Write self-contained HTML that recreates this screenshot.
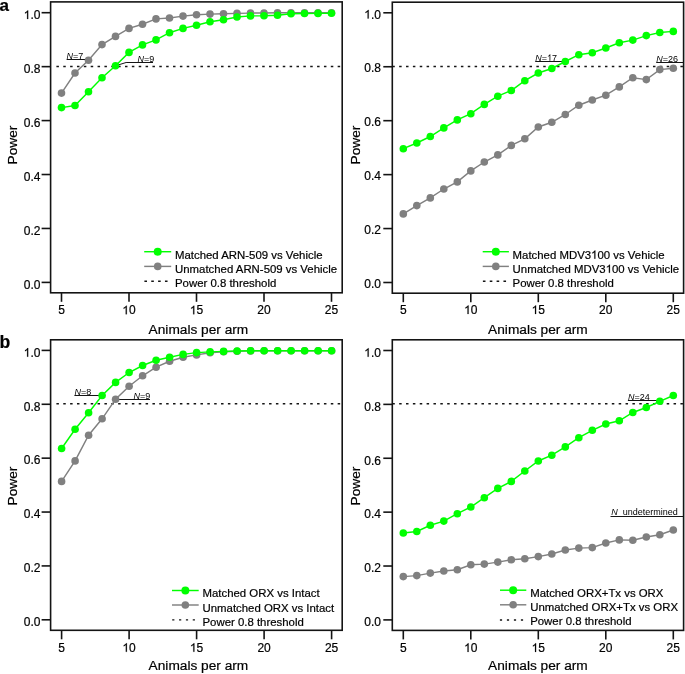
<!DOCTYPE html>
<html><head><meta charset="utf-8"><style>
html,body{margin:0;padding:0;background:#fff;}
svg{display:block;will-change:transform;}
text{font-family:"Liberation Sans",sans-serif;fill:#000;stroke:#000;stroke-width:0.2px;}
.h{fill:none;stroke:none;}
.ann{stroke:none;}
</style></head><body>
<svg width="685" height="674" viewBox="0 0 685 674">
<rect width="685" height="674" fill="#fff"/>
<rect x="50.6" y="1.9" width="291.6" height="290.9" fill="none" stroke="#141414" stroke-width="1.6"/>
<line x1="41.6" y1="282.4" x2="50.6" y2="282.4" stroke="#141414" stroke-width="1.6"/>
<text x="40.4" y="288.7" font-size="12" text-anchor="end">0.0</text>
<line x1="41.6" y1="228.46" x2="50.6" y2="228.46" stroke="#141414" stroke-width="1.6"/>
<text x="40.4" y="234.76" font-size="12" text-anchor="end">0.2</text>
<line x1="41.6" y1="174.52" x2="50.6" y2="174.52" stroke="#141414" stroke-width="1.6"/>
<text x="40.4" y="180.82" font-size="12" text-anchor="end">0.4</text>
<line x1="41.6" y1="120.58" x2="50.6" y2="120.58" stroke="#141414" stroke-width="1.6"/>
<text x="40.4" y="126.88" font-size="12" text-anchor="end">0.6</text>
<line x1="41.6" y1="66.64" x2="50.6" y2="66.64" stroke="#141414" stroke-width="1.6"/>
<text x="40.4" y="72.94" font-size="12" text-anchor="end">0.8</text>
<line x1="41.6" y1="12.7" x2="50.6" y2="12.7" stroke="#141414" stroke-width="1.6"/>
<text x="40.4" y="19" font-size="12" text-anchor="end"><tspan class="h">1</tspan>.0</text>
<line x1="61.5" y1="292.8" x2="61.5" y2="301.8" stroke="#141414" stroke-width="1.6"/>
<text x="61.5" y="314.3" font-size="12" text-anchor="middle">5</text>
<line x1="129" y1="292.8" x2="129" y2="301.8" stroke="#141414" stroke-width="1.6"/>
<text x="129" y="314.3" font-size="12" text-anchor="middle"><tspan class="h">1</tspan>0</text>
<line x1="196.5" y1="292.8" x2="196.5" y2="301.8" stroke="#141414" stroke-width="1.6"/>
<text x="196.5" y="314.3" font-size="12" text-anchor="middle"><tspan class="h">1</tspan>5</text>
<line x1="264" y1="292.8" x2="264" y2="301.8" stroke="#141414" stroke-width="1.6"/>
<text x="264" y="314.3" font-size="12" text-anchor="middle">20</text>
<line x1="331.5" y1="292.8" x2="331.5" y2="301.8" stroke="#141414" stroke-width="1.6"/>
<text x="331.5" y="314.3" font-size="12" text-anchor="middle">25</text>
<line x1="56.4" y1="66.5" x2="342.2" y2="66.5" stroke="#141414" stroke-width="1.4" stroke-dasharray="2.5 4.36"/>
<rect x="392.3" y="2.2" width="291.3" height="291" fill="none" stroke="#141414" stroke-width="1.6"/>
<line x1="383.3" y1="282.5" x2="392.3" y2="282.5" stroke="#141414" stroke-width="1.6"/>
<text x="380.9" y="288.2" font-size="12" text-anchor="end">0.0</text>
<line x1="383.3" y1="228.56" x2="392.3" y2="228.56" stroke="#141414" stroke-width="1.6"/>
<text x="380.9" y="234.26" font-size="12" text-anchor="end">0.2</text>
<line x1="383.3" y1="174.62" x2="392.3" y2="174.62" stroke="#141414" stroke-width="1.6"/>
<text x="380.9" y="180.32" font-size="12" text-anchor="end">0.4</text>
<line x1="383.3" y1="120.68" x2="392.3" y2="120.68" stroke="#141414" stroke-width="1.6"/>
<text x="380.9" y="126.38" font-size="12" text-anchor="end">0.6</text>
<line x1="383.3" y1="66.74" x2="392.3" y2="66.74" stroke="#141414" stroke-width="1.6"/>
<text x="380.9" y="72.44" font-size="12" text-anchor="end">0.8</text>
<line x1="383.3" y1="12.8" x2="392.3" y2="12.8" stroke="#141414" stroke-width="1.6"/>
<text x="380.9" y="18.5" font-size="12" text-anchor="end"><tspan class="h">1</tspan>.0</text>
<line x1="403.3" y1="293.2" x2="403.3" y2="302.2" stroke="#141414" stroke-width="1.6"/>
<text x="403.3" y="314" font-size="12" text-anchor="middle">5</text>
<line x1="470.8" y1="293.2" x2="470.8" y2="302.2" stroke="#141414" stroke-width="1.6"/>
<text x="470.8" y="314" font-size="12" text-anchor="middle"><tspan class="h">1</tspan>0</text>
<line x1="538.3" y1="293.2" x2="538.3" y2="302.2" stroke="#141414" stroke-width="1.6"/>
<text x="538.3" y="314" font-size="12" text-anchor="middle"><tspan class="h">1</tspan>5</text>
<line x1="605.8" y1="293.2" x2="605.8" y2="302.2" stroke="#141414" stroke-width="1.6"/>
<text x="605.8" y="314" font-size="12" text-anchor="middle">20</text>
<line x1="673.3" y1="293.2" x2="673.3" y2="302.2" stroke="#141414" stroke-width="1.6"/>
<text x="673.3" y="314" font-size="12" text-anchor="middle">25</text>
<line x1="392.3" y1="66.5" x2="683.6" y2="66.5" stroke="#141414" stroke-width="1.4" stroke-dasharray="2.5 4.36"/>
<rect x="50.6" y="339.8" width="291.6" height="290.5" fill="none" stroke="#141414" stroke-width="1.6"/>
<line x1="41.6" y1="619.8" x2="50.6" y2="619.8" stroke="#141414" stroke-width="1.6"/>
<text x="40.4" y="626.1" font-size="12" text-anchor="end">0.0</text>
<line x1="41.6" y1="565.92" x2="50.6" y2="565.92" stroke="#141414" stroke-width="1.6"/>
<text x="40.4" y="572.22" font-size="12" text-anchor="end">0.2</text>
<line x1="41.6" y1="512.04" x2="50.6" y2="512.04" stroke="#141414" stroke-width="1.6"/>
<text x="40.4" y="518.34" font-size="12" text-anchor="end">0.4</text>
<line x1="41.6" y1="458.16" x2="50.6" y2="458.16" stroke="#141414" stroke-width="1.6"/>
<text x="40.4" y="464.46" font-size="12" text-anchor="end">0.6</text>
<line x1="41.6" y1="404.28" x2="50.6" y2="404.28" stroke="#141414" stroke-width="1.6"/>
<text x="40.4" y="410.58" font-size="12" text-anchor="end">0.8</text>
<line x1="41.6" y1="350.4" x2="50.6" y2="350.4" stroke="#141414" stroke-width="1.6"/>
<text x="40.4" y="356.7" font-size="12" text-anchor="end"><tspan class="h">1</tspan>.0</text>
<line x1="61.6" y1="630.3" x2="61.6" y2="639.3" stroke="#141414" stroke-width="1.6"/>
<text x="61.6" y="651.8" font-size="12" text-anchor="middle">5</text>
<line x1="129.1" y1="630.3" x2="129.1" y2="639.3" stroke="#141414" stroke-width="1.6"/>
<text x="129.1" y="651.8" font-size="12" text-anchor="middle"><tspan class="h">1</tspan>0</text>
<line x1="196.6" y1="630.3" x2="196.6" y2="639.3" stroke="#141414" stroke-width="1.6"/>
<text x="196.6" y="651.8" font-size="12" text-anchor="middle"><tspan class="h">1</tspan>5</text>
<line x1="264.1" y1="630.3" x2="264.1" y2="639.3" stroke="#141414" stroke-width="1.6"/>
<text x="264.1" y="651.8" font-size="12" text-anchor="middle">20</text>
<line x1="331.6" y1="630.3" x2="331.6" y2="639.3" stroke="#141414" stroke-width="1.6"/>
<text x="331.6" y="651.8" font-size="12" text-anchor="middle">25</text>
<line x1="56.4" y1="403.7" x2="342.2" y2="403.7" stroke="#141414" stroke-width="1.4" stroke-dasharray="2.5 4.36"/>
<rect x="392.3" y="339.8" width="291.3" height="290.6" fill="none" stroke="#141414" stroke-width="1.6"/>
<line x1="383.3" y1="619.9" x2="392.3" y2="619.9" stroke="#141414" stroke-width="1.6"/>
<text x="380.9" y="626.2" font-size="12" text-anchor="end">0.0</text>
<line x1="383.3" y1="566.02" x2="392.3" y2="566.02" stroke="#141414" stroke-width="1.6"/>
<text x="380.9" y="572.32" font-size="12" text-anchor="end">0.2</text>
<line x1="383.3" y1="512.14" x2="392.3" y2="512.14" stroke="#141414" stroke-width="1.6"/>
<text x="380.9" y="518.44" font-size="12" text-anchor="end">0.4</text>
<line x1="383.3" y1="458.26" x2="392.3" y2="458.26" stroke="#141414" stroke-width="1.6"/>
<text x="380.9" y="464.56" font-size="12" text-anchor="end">0.6</text>
<line x1="383.3" y1="404.38" x2="392.3" y2="404.38" stroke="#141414" stroke-width="1.6"/>
<text x="380.9" y="410.68" font-size="12" text-anchor="end">0.8</text>
<line x1="383.3" y1="350.5" x2="392.3" y2="350.5" stroke="#141414" stroke-width="1.6"/>
<text x="380.9" y="356.8" font-size="12" text-anchor="end"><tspan class="h">1</tspan>.0</text>
<line x1="403.3" y1="630.4" x2="403.3" y2="639.4" stroke="#141414" stroke-width="1.6"/>
<text x="403.3" y="651.9" font-size="12" text-anchor="middle">5</text>
<line x1="470.8" y1="630.4" x2="470.8" y2="639.4" stroke="#141414" stroke-width="1.6"/>
<text x="470.8" y="651.9" font-size="12" text-anchor="middle"><tspan class="h">1</tspan>0</text>
<line x1="538.3" y1="630.4" x2="538.3" y2="639.4" stroke="#141414" stroke-width="1.6"/>
<text x="538.3" y="651.9" font-size="12" text-anchor="middle"><tspan class="h">1</tspan>5</text>
<line x1="605.8" y1="630.4" x2="605.8" y2="639.4" stroke="#141414" stroke-width="1.6"/>
<text x="605.8" y="651.9" font-size="12" text-anchor="middle">20</text>
<line x1="673.3" y1="630.4" x2="673.3" y2="639.4" stroke="#141414" stroke-width="1.6"/>
<text x="673.3" y="651.9" font-size="12" text-anchor="middle">25</text>
<line x1="392.3" y1="403.8" x2="683.6" y2="403.8" stroke="#141414" stroke-width="1.4" stroke-dasharray="2.5 4.36"/>
<text x="148.6" y="334.1" font-size="13.7">Animals per arm</text>
<text x="488.1" y="334.1" font-size="13.7">Animals per arm</text>
<text x="148.6" y="669.6" font-size="13.7">Animals per arm</text>
<text x="488.1" y="669.6" font-size="13.7">Animals per arm</text>
<text transform="translate(17.4,145.1) rotate(-90)" font-size="13.7" text-anchor="middle">Power</text>
<text transform="translate(360.2,145.1) rotate(-90)" font-size="13.7" text-anchor="middle">Power</text>
<text transform="translate(17.1,486.1) rotate(-90)" font-size="13.7" text-anchor="middle">Power</text>
<text transform="translate(360.4,486.1) rotate(-90)" font-size="13.7" text-anchor="middle">Power</text>
<text x="-0.6" y="10.9" font-size="17" font-weight="bold">a</text>
<text x="-0.4" y="347.6" font-size="17.6" font-weight="bold">b</text>
<text class="ann" x="66.6" y="59" font-size="9"><tspan font-style="italic">N</tspan>=7</text>
<line x1="66.6" y1="59.5" x2="88.5" y2="59.5" stroke="#141414" stroke-width="1"/>
<text class="ann" x="137.4" y="61.8" font-size="9"><tspan font-style="italic">N</tspan>=9</text>
<line x1="126.1" y1="62.5" x2="153" y2="62.5" stroke="#141414" stroke-width="1"/>
<line x1="115.5" y1="65.8" x2="126.1" y2="62.5" stroke="#141414" stroke-width="1"/>
<text class="ann" x="535.2" y="60.8" font-size="9"><tspan font-style="italic">N</tspan>=<tspan class="h">1</tspan>7</text>
<line x1="535.2" y1="61.5" x2="564.8" y2="61.5" stroke="#141414" stroke-width="1"/>
<text class="ann" x="656.2" y="61.8" font-size="9"><tspan font-style="italic">N</tspan>=26</text>
<line x1="656.2" y1="62.5" x2="683.6" y2="62.5" stroke="#141414" stroke-width="1"/>
<text class="ann" x="74.4" y="395.2" font-size="9"><tspan font-style="italic">N</tspan>=8</text>
<line x1="74.4" y1="395.5" x2="102" y2="395.5" stroke="#141414" stroke-width="1"/>
<text class="ann" x="133.6" y="398.9" font-size="9"><tspan font-style="italic">N</tspan>=9</text>
<line x1="115.6" y1="399.5" x2="150" y2="399.5" stroke="#141414" stroke-width="1"/>
<text class="ann" x="627.9" y="399.8" font-size="9"><tspan font-style="italic">N</tspan>=24</text>
<line x1="627.9" y1="400.5" x2="659.8" y2="400.5" stroke="#141414" stroke-width="1"/>
<text class="ann" x="611.3" y="515.1" font-size="9"><tspan font-style="italic">N</tspan><tspan x="622.8">undetermined</tspan></text>
<line x1="610.5" y1="516.5" x2="683.6" y2="516.5" stroke="#141414" stroke-width="1"/>
<polyline points="61.5,93.1 75,73 88.5,60.3 102,44.6 115.5,36.4 129,28.4 142.5,24.2 156,18.9 169.5,18 183,16.1 196.5,14.8 210,14.1 223.5,13.7 237,13.4 250.5,13.1 264,13 277.5,12.8 291,12.8 304.5,12.8 318,12.8 331.5,12.8" fill="none" stroke="#808080" stroke-width="1.45"/>
<circle cx="61.5" cy="93.1" r="3.8" fill="#808080"/>
<circle cx="75" cy="73" r="3.8" fill="#808080"/>
<circle cx="88.5" cy="60.3" r="3.8" fill="#808080"/>
<circle cx="102" cy="44.6" r="3.8" fill="#808080"/>
<circle cx="115.5" cy="36.4" r="3.8" fill="#808080"/>
<circle cx="129" cy="28.4" r="3.8" fill="#808080"/>
<circle cx="142.5" cy="24.2" r="3.8" fill="#808080"/>
<circle cx="156" cy="18.9" r="3.8" fill="#808080"/>
<circle cx="169.5" cy="18" r="3.8" fill="#808080"/>
<circle cx="183" cy="16.1" r="3.8" fill="#808080"/>
<circle cx="196.5" cy="14.8" r="3.8" fill="#808080"/>
<circle cx="210" cy="14.1" r="3.8" fill="#808080"/>
<circle cx="223.5" cy="13.7" r="3.8" fill="#808080"/>
<circle cx="237" cy="13.4" r="3.8" fill="#808080"/>
<circle cx="250.5" cy="13.1" r="3.8" fill="#808080"/>
<circle cx="264" cy="13" r="3.8" fill="#808080"/>
<circle cx="277.5" cy="12.8" r="3.8" fill="#808080"/>
<circle cx="291" cy="12.8" r="3.8" fill="#808080"/>
<circle cx="304.5" cy="12.8" r="3.8" fill="#808080"/>
<circle cx="318" cy="12.8" r="3.8" fill="#808080"/>
<circle cx="331.5" cy="12.8" r="3.8" fill="#808080"/>
<polyline points="61.5,107.6 75,105.5 88.5,91.7 102,77.8 115.5,65.8 129,52.4 142.5,44.9 156,39.9 169.5,32.7 183,28.4 196.5,25.3 210,21.7 223.5,19.7 237,17 250.5,15.9 264,15.8 277.5,15.3 291,13.7 304.5,13.5 318,13.4 331.5,13.3" fill="none" stroke="#00ff00" stroke-width="1.45"/>
<circle cx="61.5" cy="107.6" r="3.8" fill="#00ff00"/>
<circle cx="75" cy="105.5" r="3.8" fill="#00ff00"/>
<circle cx="88.5" cy="91.7" r="3.8" fill="#00ff00"/>
<circle cx="102" cy="77.8" r="3.8" fill="#00ff00"/>
<circle cx="115.5" cy="65.8" r="3.8" fill="#00ff00"/>
<circle cx="129" cy="52.4" r="3.8" fill="#00ff00"/>
<circle cx="142.5" cy="44.9" r="3.8" fill="#00ff00"/>
<circle cx="156" cy="39.9" r="3.8" fill="#00ff00"/>
<circle cx="169.5" cy="32.7" r="3.8" fill="#00ff00"/>
<circle cx="183" cy="28.4" r="3.8" fill="#00ff00"/>
<circle cx="196.5" cy="25.3" r="3.8" fill="#00ff00"/>
<circle cx="210" cy="21.7" r="3.8" fill="#00ff00"/>
<circle cx="223.5" cy="19.7" r="3.8" fill="#00ff00"/>
<circle cx="237" cy="17" r="3.8" fill="#00ff00"/>
<circle cx="250.5" cy="15.9" r="3.8" fill="#00ff00"/>
<circle cx="264" cy="15.8" r="3.8" fill="#00ff00"/>
<circle cx="277.5" cy="15.3" r="3.8" fill="#00ff00"/>
<circle cx="291" cy="13.7" r="3.8" fill="#00ff00"/>
<circle cx="304.5" cy="13.5" r="3.8" fill="#00ff00"/>
<circle cx="318" cy="13.4" r="3.8" fill="#00ff00"/>
<circle cx="331.5" cy="13.3" r="3.8" fill="#00ff00"/>
<line x1="144.2" y1="251.7" x2="171.2" y2="251.7" stroke="#00ff00" stroke-width="1.45"/>
<circle cx="157.7" cy="251.7" r="4.0" fill="#00ff00"/>
<text x="175" y="258.6" font-size="11.4">Matched ARN-509 vs Vehicle</text>
<line x1="144.2" y1="266.4" x2="171.2" y2="266.4" stroke="#808080" stroke-width="1.45"/>
<circle cx="157.7" cy="266.4" r="3.8" fill="#808080"/>
<text x="175" y="272.7" font-size="11.4">Unmatched ARN-509 vs Vehicle</text>
<line x1="144.4" y1="281.3" x2="167.55" y2="281.3" stroke="#141414" stroke-width="1.4" stroke-dasharray="2.6 4.25"/>
<text x="175" y="286.6" font-size="11.4">Power 0.8 threshold</text>
<polyline points="403.3,213.9 416.8,205.6 430.3,197.9 443.8,189 457.3,181.9 470.8,170.9 484.3,162 497.8,154.9 511.3,145.4 524.8,138.8 538.3,127 551.8,122.3 565.3,114.5 578.8,105.2 592.3,100 605.8,95.2 619.3,86.9 632.8,77.7 646.3,79.6 659.8,69.6 673.3,68.2" fill="none" stroke="#808080" stroke-width="1.45"/>
<circle cx="403.3" cy="213.9" r="3.8" fill="#808080"/>
<circle cx="416.8" cy="205.6" r="3.8" fill="#808080"/>
<circle cx="430.3" cy="197.9" r="3.8" fill="#808080"/>
<circle cx="443.8" cy="189" r="3.8" fill="#808080"/>
<circle cx="457.3" cy="181.9" r="3.8" fill="#808080"/>
<circle cx="470.8" cy="170.9" r="3.8" fill="#808080"/>
<circle cx="484.3" cy="162" r="3.8" fill="#808080"/>
<circle cx="497.8" cy="154.9" r="3.8" fill="#808080"/>
<circle cx="511.3" cy="145.4" r="3.8" fill="#808080"/>
<circle cx="524.8" cy="138.8" r="3.8" fill="#808080"/>
<circle cx="538.3" cy="127" r="3.8" fill="#808080"/>
<circle cx="551.8" cy="122.3" r="3.8" fill="#808080"/>
<circle cx="565.3" cy="114.5" r="3.8" fill="#808080"/>
<circle cx="578.8" cy="105.2" r="3.8" fill="#808080"/>
<circle cx="592.3" cy="100" r="3.8" fill="#808080"/>
<circle cx="605.8" cy="95.2" r="3.8" fill="#808080"/>
<circle cx="619.3" cy="86.9" r="3.8" fill="#808080"/>
<circle cx="632.8" cy="77.7" r="3.8" fill="#808080"/>
<circle cx="646.3" cy="79.6" r="3.8" fill="#808080"/>
<circle cx="659.8" cy="69.6" r="3.8" fill="#808080"/>
<circle cx="673.3" cy="68.2" r="3.8" fill="#808080"/>
<polyline points="403.3,148.7 416.8,143 430.3,136.5 443.8,127.9 457.3,119.9 470.8,113.7 484.3,104.4 497.8,96.2 511.3,90.5 524.8,80.7 538.3,73 551.8,68.5 565.3,61.5 578.8,54.7 592.3,52.8 605.8,48 619.3,42.8 632.8,40.1 646.3,35.6 659.8,32.5 673.3,31.4" fill="none" stroke="#00ff00" stroke-width="1.45"/>
<circle cx="403.3" cy="148.7" r="3.8" fill="#00ff00"/>
<circle cx="416.8" cy="143" r="3.8" fill="#00ff00"/>
<circle cx="430.3" cy="136.5" r="3.8" fill="#00ff00"/>
<circle cx="443.8" cy="127.9" r="3.8" fill="#00ff00"/>
<circle cx="457.3" cy="119.9" r="3.8" fill="#00ff00"/>
<circle cx="470.8" cy="113.7" r="3.8" fill="#00ff00"/>
<circle cx="484.3" cy="104.4" r="3.8" fill="#00ff00"/>
<circle cx="497.8" cy="96.2" r="3.8" fill="#00ff00"/>
<circle cx="511.3" cy="90.5" r="3.8" fill="#00ff00"/>
<circle cx="524.8" cy="80.7" r="3.8" fill="#00ff00"/>
<circle cx="538.3" cy="73" r="3.8" fill="#00ff00"/>
<circle cx="551.8" cy="68.5" r="3.8" fill="#00ff00"/>
<circle cx="565.3" cy="61.5" r="3.8" fill="#00ff00"/>
<circle cx="578.8" cy="54.7" r="3.8" fill="#00ff00"/>
<circle cx="592.3" cy="52.8" r="3.8" fill="#00ff00"/>
<circle cx="605.8" cy="48" r="3.8" fill="#00ff00"/>
<circle cx="619.3" cy="42.8" r="3.8" fill="#00ff00"/>
<circle cx="632.8" cy="40.1" r="3.8" fill="#00ff00"/>
<circle cx="646.3" cy="35.6" r="3.8" fill="#00ff00"/>
<circle cx="659.8" cy="32.5" r="3.8" fill="#00ff00"/>
<circle cx="673.3" cy="31.4" r="3.8" fill="#00ff00"/>
<line x1="482.7" y1="251.7" x2="508.9" y2="251.7" stroke="#00ff00" stroke-width="1.45"/>
<circle cx="495.8" cy="251.7" r="4.0" fill="#00ff00"/>
<text x="512.6" y="258.7" font-size="11.4">Matched MDV3<tspan class="h">1</tspan>00 vs Vehicle</text>
<line x1="482.7" y1="266.4" x2="508.9" y2="266.4" stroke="#808080" stroke-width="1.45"/>
<circle cx="495.8" cy="266.4" r="3.8" fill="#808080"/>
<text x="512.6" y="272.8" font-size="11.4">Unmatched MDV3<tspan class="h">1</tspan>00 vs Vehicle</text>
<line x1="482.9" y1="281.3" x2="506.05" y2="281.3" stroke="#141414" stroke-width="1.4" stroke-dasharray="2.6 4.25"/>
<text x="512.6" y="286.7" font-size="11.4">Power 0.8 threshold</text>
<polyline points="61.6,481.4 75.1,460.9 88.6,435.2 102.1,418.8 115.6,399.2 129.1,386.3 142.6,375.8 156.1,367.2 169.6,361.3 183.1,357.2 196.6,354.9 210.1,352.8 223.6,351.7 237.1,351.2 250.6,350.9 264.1,350.8 277.6,350.8 291.1,350.8 304.6,350.8 318.1,350.8 331.6,350.8" fill="none" stroke="#808080" stroke-width="1.45"/>
<circle cx="61.6" cy="481.4" r="3.8" fill="#808080"/>
<circle cx="75.1" cy="460.9" r="3.8" fill="#808080"/>
<circle cx="88.6" cy="435.2" r="3.8" fill="#808080"/>
<circle cx="102.1" cy="418.8" r="3.8" fill="#808080"/>
<circle cx="115.6" cy="399.2" r="3.8" fill="#808080"/>
<circle cx="129.1" cy="386.3" r="3.8" fill="#808080"/>
<circle cx="142.6" cy="375.8" r="3.8" fill="#808080"/>
<circle cx="156.1" cy="367.2" r="3.8" fill="#808080"/>
<circle cx="169.6" cy="361.3" r="3.8" fill="#808080"/>
<circle cx="183.1" cy="357.2" r="3.8" fill="#808080"/>
<circle cx="196.6" cy="354.9" r="3.8" fill="#808080"/>
<circle cx="210.1" cy="352.8" r="3.8" fill="#808080"/>
<circle cx="223.6" cy="351.7" r="3.8" fill="#808080"/>
<circle cx="237.1" cy="351.2" r="3.8" fill="#808080"/>
<circle cx="250.6" cy="350.9" r="3.8" fill="#808080"/>
<circle cx="264.1" cy="350.8" r="3.8" fill="#808080"/>
<circle cx="277.6" cy="350.8" r="3.8" fill="#808080"/>
<circle cx="291.1" cy="350.8" r="3.8" fill="#808080"/>
<circle cx="304.6" cy="350.8" r="3.8" fill="#808080"/>
<circle cx="318.1" cy="350.8" r="3.8" fill="#808080"/>
<circle cx="331.6" cy="350.8" r="3.8" fill="#808080"/>
<polyline points="61.6,448.5 75.1,429.3 88.6,412.8 102.1,395.5 115.6,382.4 129.1,372.5 142.6,365.5 156.1,360.3 169.6,357.2 183.1,354.4 196.6,352.6 210.1,351.9 223.6,351.4 237.1,351 250.6,350.8 264.1,350.7 277.6,350.7 291.1,350.7 304.6,350.7 318.1,350.7 331.6,350.7" fill="none" stroke="#00ff00" stroke-width="1.45"/>
<circle cx="61.6" cy="448.5" r="3.8" fill="#00ff00"/>
<circle cx="75.1" cy="429.3" r="3.8" fill="#00ff00"/>
<circle cx="88.6" cy="412.8" r="3.8" fill="#00ff00"/>
<circle cx="102.1" cy="395.5" r="3.8" fill="#00ff00"/>
<circle cx="115.6" cy="382.4" r="3.8" fill="#00ff00"/>
<circle cx="129.1" cy="372.5" r="3.8" fill="#00ff00"/>
<circle cx="142.6" cy="365.5" r="3.8" fill="#00ff00"/>
<circle cx="156.1" cy="360.3" r="3.8" fill="#00ff00"/>
<circle cx="169.6" cy="357.2" r="3.8" fill="#00ff00"/>
<circle cx="183.1" cy="354.4" r="3.8" fill="#00ff00"/>
<circle cx="196.6" cy="352.6" r="3.8" fill="#00ff00"/>
<circle cx="210.1" cy="351.9" r="3.8" fill="#00ff00"/>
<circle cx="223.6" cy="351.4" r="3.8" fill="#00ff00"/>
<circle cx="237.1" cy="351" r="3.8" fill="#00ff00"/>
<circle cx="250.6" cy="350.8" r="3.8" fill="#00ff00"/>
<circle cx="264.1" cy="350.7" r="3.8" fill="#00ff00"/>
<circle cx="277.6" cy="350.7" r="3.8" fill="#00ff00"/>
<circle cx="291.1" cy="350.7" r="3.8" fill="#00ff00"/>
<circle cx="304.6" cy="350.7" r="3.8" fill="#00ff00"/>
<circle cx="318.1" cy="350.7" r="3.8" fill="#00ff00"/>
<circle cx="331.6" cy="350.7" r="3.8" fill="#00ff00"/>
<line x1="172" y1="590.5" x2="198.7" y2="590.5" stroke="#00ff00" stroke-width="1.45"/>
<circle cx="185.35" cy="590.5" r="4.0" fill="#00ff00"/>
<text x="202.5" y="597.2" font-size="11.4">Matched ORX vs Intact</text>
<line x1="172" y1="605" x2="198.7" y2="605" stroke="#808080" stroke-width="1.45"/>
<circle cx="185.35" cy="605" r="3.8" fill="#808080"/>
<text x="202.5" y="611.5" font-size="11.4">Unmatched ORX vs Intact</text>
<line x1="172.2" y1="619.9" x2="194.95" y2="619.9" stroke="#141414" stroke-width="1.4" stroke-dasharray="2.2 4.65"/>
<text x="202.5" y="625.5" font-size="11.4">Power 0.8 threshold</text>
<polyline points="403.3,576.6 416.8,575.6 430.3,573.1 443.8,571 457.3,569.7 470.8,564.8 484.3,564.1 497.8,562.1 511.3,559.7 524.8,558.7 538.3,556.6 551.8,554 565.3,550 578.8,548.1 592.3,547.6 605.8,543 619.3,539.9 632.8,540.3 646.3,537 659.8,534.7 673.3,530" fill="none" stroke="#808080" stroke-width="1.45"/>
<circle cx="403.3" cy="576.6" r="3.8" fill="#808080"/>
<circle cx="416.8" cy="575.6" r="3.8" fill="#808080"/>
<circle cx="430.3" cy="573.1" r="3.8" fill="#808080"/>
<circle cx="443.8" cy="571" r="3.8" fill="#808080"/>
<circle cx="457.3" cy="569.7" r="3.8" fill="#808080"/>
<circle cx="470.8" cy="564.8" r="3.8" fill="#808080"/>
<circle cx="484.3" cy="564.1" r="3.8" fill="#808080"/>
<circle cx="497.8" cy="562.1" r="3.8" fill="#808080"/>
<circle cx="511.3" cy="559.7" r="3.8" fill="#808080"/>
<circle cx="524.8" cy="558.7" r="3.8" fill="#808080"/>
<circle cx="538.3" cy="556.6" r="3.8" fill="#808080"/>
<circle cx="551.8" cy="554" r="3.8" fill="#808080"/>
<circle cx="565.3" cy="550" r="3.8" fill="#808080"/>
<circle cx="578.8" cy="548.1" r="3.8" fill="#808080"/>
<circle cx="592.3" cy="547.6" r="3.8" fill="#808080"/>
<circle cx="605.8" cy="543" r="3.8" fill="#808080"/>
<circle cx="619.3" cy="539.9" r="3.8" fill="#808080"/>
<circle cx="632.8" cy="540.3" r="3.8" fill="#808080"/>
<circle cx="646.3" cy="537" r="3.8" fill="#808080"/>
<circle cx="659.8" cy="534.7" r="3.8" fill="#808080"/>
<circle cx="673.3" cy="530" r="3.8" fill="#808080"/>
<polyline points="403.3,533 416.8,531.5 430.3,525.3 443.8,521.1 457.3,513.7 470.8,507 484.3,497.7 497.8,488.4 511.3,481.4 524.8,471 538.3,461 551.8,455.2 565.3,446.9 578.8,437.7 592.3,430.3 605.8,424 619.3,420.8 632.8,412.5 646.3,407.5 659.8,401.3 673.3,395.5" fill="none" stroke="#00ff00" stroke-width="1.45"/>
<circle cx="403.3" cy="533" r="3.8" fill="#00ff00"/>
<circle cx="416.8" cy="531.5" r="3.8" fill="#00ff00"/>
<circle cx="430.3" cy="525.3" r="3.8" fill="#00ff00"/>
<circle cx="443.8" cy="521.1" r="3.8" fill="#00ff00"/>
<circle cx="457.3" cy="513.7" r="3.8" fill="#00ff00"/>
<circle cx="470.8" cy="507" r="3.8" fill="#00ff00"/>
<circle cx="484.3" cy="497.7" r="3.8" fill="#00ff00"/>
<circle cx="497.8" cy="488.4" r="3.8" fill="#00ff00"/>
<circle cx="511.3" cy="481.4" r="3.8" fill="#00ff00"/>
<circle cx="524.8" cy="471" r="3.8" fill="#00ff00"/>
<circle cx="538.3" cy="461" r="3.8" fill="#00ff00"/>
<circle cx="551.8" cy="455.2" r="3.8" fill="#00ff00"/>
<circle cx="565.3" cy="446.9" r="3.8" fill="#00ff00"/>
<circle cx="578.8" cy="437.7" r="3.8" fill="#00ff00"/>
<circle cx="592.3" cy="430.3" r="3.8" fill="#00ff00"/>
<circle cx="605.8" cy="424" r="3.8" fill="#00ff00"/>
<circle cx="619.3" cy="420.8" r="3.8" fill="#00ff00"/>
<circle cx="632.8" cy="412.5" r="3.8" fill="#00ff00"/>
<circle cx="646.3" cy="407.5" r="3.8" fill="#00ff00"/>
<circle cx="659.8" cy="401.3" r="3.8" fill="#00ff00"/>
<circle cx="673.3" cy="395.5" r="3.8" fill="#00ff00"/>
<line x1="500" y1="590.2" x2="526.3" y2="590.2" stroke="#00ff00" stroke-width="1.45"/>
<circle cx="513.15" cy="590.2" r="4.0" fill="#00ff00"/>
<text x="530.2" y="596.9" font-size="11.4">Matched ORX+Tx vs ORX</text>
<line x1="500" y1="604.8" x2="526.3" y2="604.8" stroke="#808080" stroke-width="1.45"/>
<circle cx="513.15" cy="604.8" r="3.8" fill="#808080"/>
<text x="530.2" y="611.3" font-size="11.4">Unmatched ORX+Tx vs ORX</text>
<line x1="499.9" y1="620" x2="523.1" y2="620" stroke="#141414" stroke-width="1.4" stroke-dasharray="2.2 4.8"/>
<text x="530.2" y="625.2" font-size="11.4">Power 0.8 threshold</text>
<g fill="#000" stroke="#000" stroke-width="0.2"><path d="M763 0H583V1147Q518 1085 412 1023Q306 961 222 930V1104Q373 1175 486 1276Q599 1377 646 1466H763Z" transform="translate(23.70,19.00) scale(0.005859,-0.005859)" vector-effect="non-scaling-stroke"/><path d="M763 0H583V1147Q518 1085 412 1023Q306 961 222 930V1104Q373 1175 486 1276Q599 1377 646 1466H763Z" transform="translate(122.31,314.30) scale(0.005859,-0.005859)" vector-effect="non-scaling-stroke"/><path d="M763 0H583V1147Q518 1085 412 1023Q306 961 222 930V1104Q373 1175 486 1276Q599 1377 646 1466H763Z" transform="translate(189.81,314.30) scale(0.005859,-0.005859)" vector-effect="non-scaling-stroke"/><path d="M763 0H583V1147Q518 1085 412 1023Q306 961 222 930V1104Q373 1175 486 1276Q599 1377 646 1466H763Z" transform="translate(364.20,18.50) scale(0.005859,-0.005859)" vector-effect="non-scaling-stroke"/><path d="M763 0H583V1147Q518 1085 412 1023Q306 961 222 930V1104Q373 1175 486 1276Q599 1377 646 1466H763Z" transform="translate(464.11,314.00) scale(0.005859,-0.005859)" vector-effect="non-scaling-stroke"/><path d="M763 0H583V1147Q518 1085 412 1023Q306 961 222 930V1104Q373 1175 486 1276Q599 1377 646 1466H763Z" transform="translate(531.61,314.00) scale(0.005859,-0.005859)" vector-effect="non-scaling-stroke"/><path d="M763 0H583V1147Q518 1085 412 1023Q306 961 222 930V1104Q373 1175 486 1276Q599 1377 646 1466H763Z" transform="translate(23.70,356.70) scale(0.005859,-0.005859)" vector-effect="non-scaling-stroke"/><path d="M763 0H583V1147Q518 1085 412 1023Q306 961 222 930V1104Q373 1175 486 1276Q599 1377 646 1466H763Z" transform="translate(122.41,651.80) scale(0.005859,-0.005859)" vector-effect="non-scaling-stroke"/><path d="M763 0H583V1147Q518 1085 412 1023Q306 961 222 930V1104Q373 1175 486 1276Q599 1377 646 1466H763Z" transform="translate(189.91,651.80) scale(0.005859,-0.005859)" vector-effect="non-scaling-stroke"/><path d="M763 0H583V1147Q518 1085 412 1023Q306 961 222 930V1104Q373 1175 486 1276Q599 1377 646 1466H763Z" transform="translate(364.20,356.80) scale(0.005859,-0.005859)" vector-effect="non-scaling-stroke"/><path d="M763 0H583V1147Q518 1085 412 1023Q306 961 222 930V1104Q373 1175 486 1276Q599 1377 646 1466H763Z" transform="translate(464.11,651.90) scale(0.005859,-0.005859)" vector-effect="non-scaling-stroke"/><path d="M763 0H583V1147Q518 1085 412 1023Q306 961 222 930V1104Q373 1175 486 1276Q599 1377 646 1466H763Z" transform="translate(531.61,651.90) scale(0.005859,-0.005859)" vector-effect="non-scaling-stroke"/><path d="M763 0H583V1147Q518 1085 412 1023Q306 961 222 930V1104Q373 1175 486 1276Q599 1377 646 1466H763Z" transform="translate(546.97,60.80) scale(0.004395,-0.004395)" vector-effect="non-scaling-stroke" stroke="none"/><path d="M763 0H583V1147Q518 1085 412 1023Q306 961 222 930V1104Q373 1175 486 1276Q599 1377 646 1466H763Z" transform="translate(591.10,258.70) scale(0.005566,-0.005566)" vector-effect="non-scaling-stroke"/><path d="M763 0H583V1147Q518 1085 412 1023Q306 961 222 930V1104Q373 1175 486 1276Q599 1377 646 1466H763Z" transform="translate(605.66,272.80) scale(0.005566,-0.005566)" vector-effect="non-scaling-stroke"/></g>
</svg>
</body></html>
